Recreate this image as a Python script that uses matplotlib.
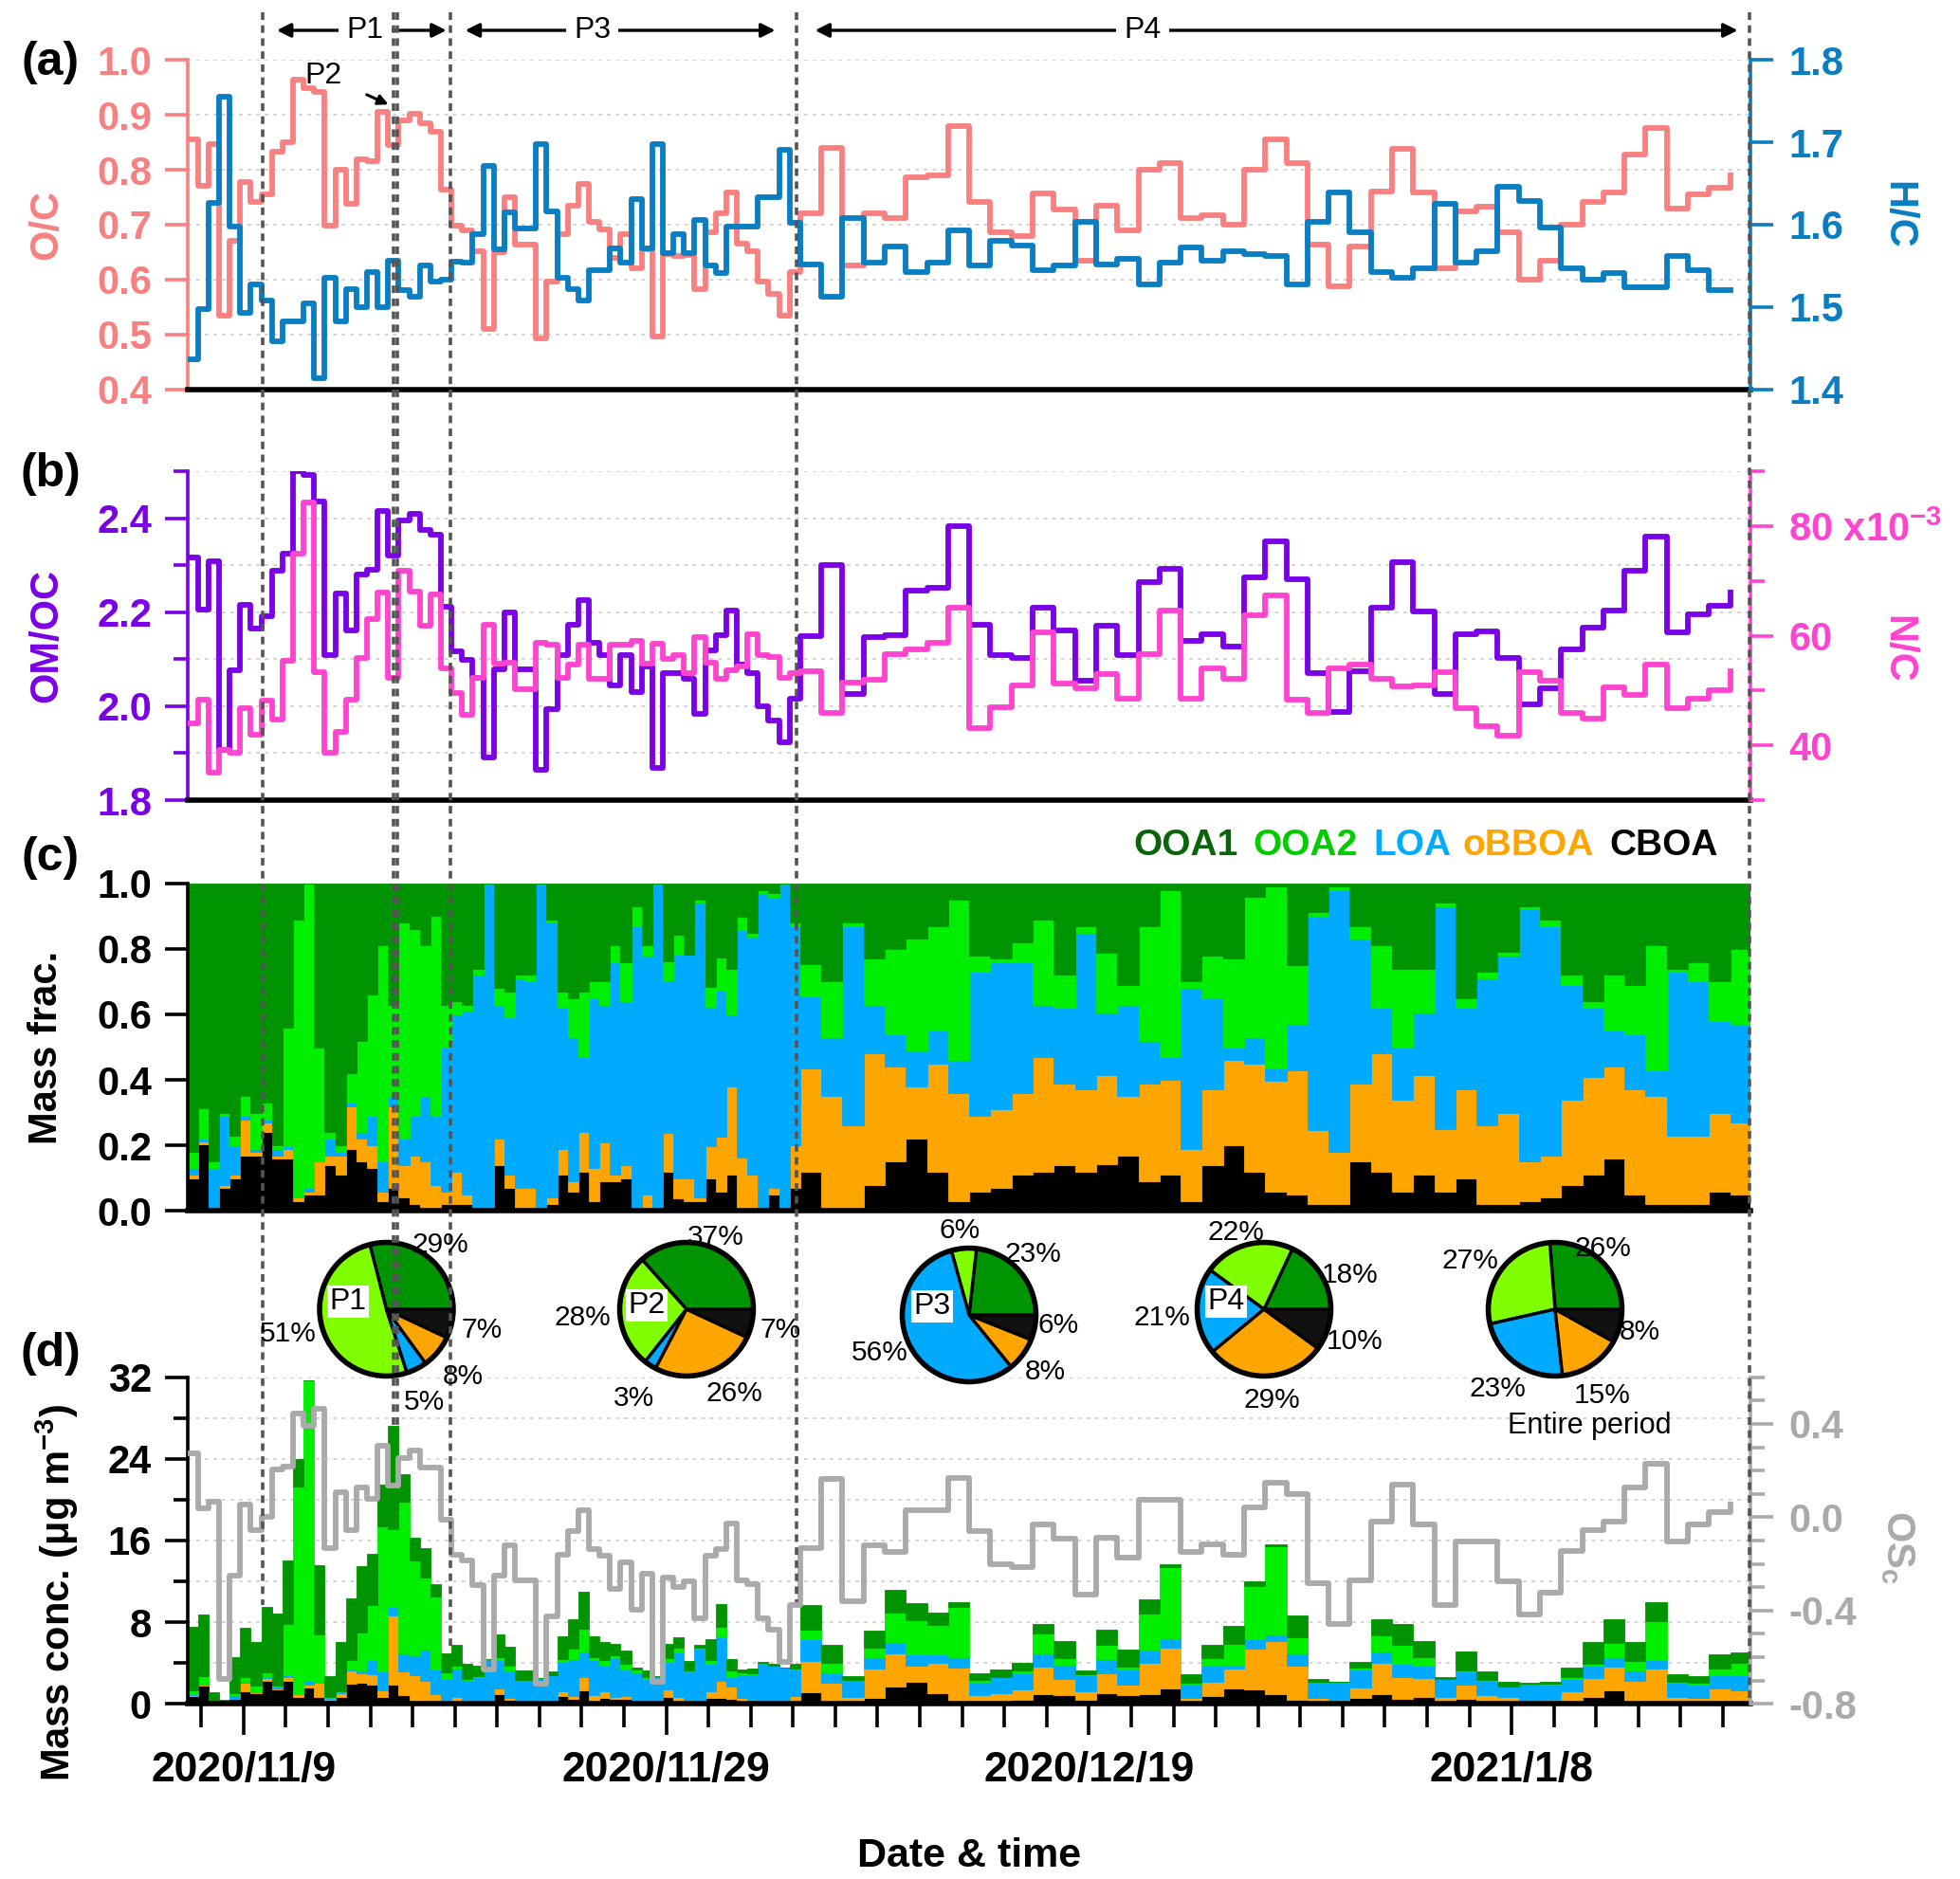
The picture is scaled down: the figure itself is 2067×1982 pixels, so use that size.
import numpy as np
import matplotlib
matplotlib.use("Agg")
import matplotlib.pyplot as plt
import matplotlib.transforms as mtransforms
from matplotlib.lines import Line2D
from matplotlib.ticker import FixedLocator, MultipleLocator

plt.rcParams['font.family'] = ['Liberation Sans', 'DejaVu Sans']
plt.rcParams['font.weight'] = 'bold'
plt.rcParams['axes.labelweight'] = 'bold'
plt.rcParams['mathtext.fontset'] = 'custom'
plt.rcParams['mathtext.rm'] = 'Liberation Sans:bold'
plt.rcParams['mathtext.it'] = 'Liberation Sans:bold'
plt.rcParams['mathtext.bf'] = 'Liberation Sans:bold'
plt.rcParams['axes.unicode_minus'] = False

# ---------------- data ----------------
# time axis: days after 2020/11/9 00:00 (12-h averages, then daily averages)
t_half = -2.66 + 0.5 * np.arange(58)
t_day = 26.34 + np.arange(45)

oc_half = [0.856, 0.77, 0.847, 0.534, 0.671, 0.777, 0.741, 0.755, 0.833, 0.85,
           0.965, 0.948, 0.942, 0.698, 0.80, 0.738, 0.819, 0.816, 0.905, 0.845,
           0.89, 0.902, 0.885, 0.87, 0.764, 0.698, 0.689, 0.652, 0.51, 0.65,
           0.75, 0.663, 0.663, 0.493, 0.597, 0.683, 0.735, 0.774, 0.706, 0.692,
           0.64, 0.683, 0.62, 0.655, 0.496, 0.646, 0.643, 0.645, 0.583, 0.686,
           0.72, 0.758, 0.666, 0.652, 0.597, 0.574, 0.534, 0.614]
oc_day = [0.72, 0.84, 0.626, 0.72, 0.712, 0.787, 0.79, 0.88, 0.741, 0.686,
          0.68, 0.757, 0.727, 0.634, 0.735, 0.689, 0.80, 0.813, 0.712, 0.718,
          0.70, 0.80, 0.856, 0.813, 0.663, 0.588, 0.66, 0.761, 0.839, 0.758,
          0.62, 0.724, 0.732, 0.686, 0.60, 0.634, 0.70, 0.741, 0.758, 0.827,
          0.876, 0.729, 0.755, 0.767, 0.79]

hc_half = [1.437, 1.497, 1.627, 1.755, 1.598, 1.493, 1.528, 1.508, 1.458, 1.482,
           1.482, 1.505, 1.413, 1.535, 1.482, 1.522, 1.50, 1.543, 1.50, 1.556,
           1.521, 1.512, 1.55, 1.531, 1.533, 1.555, 1.554, 1.589, 1.671, 1.57,
           1.615, 1.595, 1.595, 1.698, 1.616, 1.535, 1.522, 1.508, 1.545, 1.545,
           1.571, 1.554, 1.631, 1.571, 1.698, 1.565, 1.589, 1.565, 1.606, 1.551,
           1.541, 1.598, 1.598, 1.598, 1.633, 1.633, 1.691, 1.602]
hc_day = [1.552, 1.512, 1.608, 1.554, 1.573, 1.543, 1.554, 1.593, 1.55, 1.581,
          1.575, 1.545, 1.55, 1.604, 1.552, 1.558, 1.527, 1.554, 1.572, 1.556,
          1.568, 1.564, 1.562, 1.527, 1.604, 1.639, 1.591, 1.543, 1.535, 1.547,
          1.625, 1.554, 1.568, 1.646, 1.629, 1.597, 1.547, 1.533, 1.541, 1.524,
          1.524, 1.562, 1.545, 1.52, 1.521]

omoc_half = [2.317, 2.206, 2.308, 1.906, 2.076, 2.216, 2.165, 2.192, 2.288, 2.324,
             2.50, 2.492, 2.436, 2.108, 2.241, 2.162, 2.281, 2.29, 2.415, 2.32,
             2.395, 2.41, 2.376, 2.366, 2.211, 2.117, 2.099, 2.06, 1.89, 2.078,
             2.2, 2.078, 2.078, 1.865, 1.994, 2.108, 2.173, 2.226, 2.135, 2.108,
             2.044, 2.108, 2.03, 2.084, 1.869, 2.071, 2.071, 2.058, 1.983, 2.12,
             2.152, 2.204, 2.088, 2.071, 2.0, 1.97, 1.923, 2.017]
omoc_day = [2.15, 2.30, 2.027, 2.148, 2.152, 2.246, 2.253, 2.384, 2.173, 2.108,
            2.103, 2.209, 2.162, 2.054, 2.172, 2.108, 2.265, 2.293, 2.14, 2.153,
            2.128, 2.275, 2.351, 2.27, 2.07, 1.987, 2.074, 2.209, 2.307, 2.202,
            2.027, 2.153, 2.159, 2.103, 2.004, 2.039, 2.122, 2.167, 2.204, 2.288,
            2.361, 2.157, 2.196, 2.213, 2.243]

# N/C in units of 1e-3
nc_half = [44.0, 48.3, 35.1, 39.1, 38.6, 46.8, 42.0, 48.2, 44.7, 55.4,
           75.0, 84.3, 53.4, 38.6, 42.4, 48.3, 56.0, 63.0, 67.9, 52.4,
           71.9, 68.1, 61.9, 67.5, 54.1, 49.5, 45.5, 52.4, 62.0, 55.0,
           55.1, 50.2, 50.2, 58.7, 58.3, 52.4, 54.8, 58.3, 52.1, 52.1,
           58.3, 58.4, 59.1, 55.0, 58.5, 55.7, 56.4, 53.2, 59.7, 55.1,
           52.2, 53.7, 54.4, 60.3, 56.4, 56.1, 52.4, 53.2]
nc_day = [53.5, 45.9, 51.5, 52.0, 56.7, 57.6, 58.7, 65.2, 43.2, 47.0,
          51.0, 60.7, 51.2, 50.4, 53.1, 48.6, 56.6, 64.6, 48.6, 54.1,
          52.2, 63.7, 67.3, 48.3, 46.0, 54.1, 54.7, 52.2, 50.8, 51.0,
          53.4, 46.8, 43.5, 41.8, 53.4, 51.8, 45.9, 44.9, 50.6, 49.2,
          54.7, 46.8, 48.6, 50.1, 53.5]

osc_half = [0.275, 0.039, 0.066, -0.695, -0.25, 0.055, -0.055, 0.001, 0.203, 0.217,
            0.443, 0.39, 0.463, -0.133, 0.109, -0.055, 0.127, 0.08, 0.308, 0.136,
            0.255, 0.284, 0.212, 0.212, -0.012, -0.16, -0.187, -0.29, -0.654, -0.25,
            -0.12, -0.27, -0.27, -0.715, -0.425, -0.16, -0.058, 0.028, -0.136, -0.163,
            -0.308, -0.193, -0.395, -0.244, -0.704, -0.26, -0.298, -0.275, -0.435, -0.166,
            -0.136, -0.028, -0.27, -0.287, -0.432, -0.48, -0.621, -0.376]
osc_day = [-0.133, 0.163, -0.358, -0.12, -0.147, 0.028, 0.028, 0.167, -0.059, -0.203,
           -0.214, -0.032, -0.09, -0.333, -0.086, -0.174, 0.075, 0.075, -0.147, -0.117,
           -0.16, 0.042, 0.149, 0.098, -0.281, -0.459, -0.27, -0.019, 0.139, -0.032,
           -0.376, -0.104, -0.104, -0.275, -0.416, -0.322, -0.144, -0.055, -0.019, 0.129,
           0.228, -0.104, -0.032, 0.022, 0.055]

# total OA mass concentration (ug m-3)
total_half = [7.55, 8.73, 1.15, 0.37, 4.55, 7.43, 6.1, 9.5, 8.89, 14.06,
              23.96, 31.7, 13.6, 2.7, 6.1, 10.3, 13.5, 14.7, 21.5, 27.2,
              22.5, 16.3, 15.3, 11.7, 4.95, 5.8, 3.9, 3.7, 4.4, 6.8,
              5.6, 3.3, 3.3, 2.5, 3.2, 6.6, 8.3, 11.0, 6.6, 6.1,
              5.9, 5.2, 3.6, 3.3, 2.7, 5.9, 6.5, 4.2, 5.8, 6.3,
              9.8, 4.4, 3.4, 3.5, 4.1, 3.9, 3.6, 3.9]
total_day = [9.7, 5.8, 2.7, 7.2, 11.2, 9.9, 8.9, 10.0, 3.0, 3.4,
             4.0, 7.8, 6.2, 3.3, 7.3, 5.3, 10.2, 13.7, 2.9, 5.8,
             7.6, 12.0, 15.6, 8.7, 2.4, 2.2, 4.1, 8.3, 7.8, 6.2,
             2.6, 5.1, 3.2, 2.2, 2.1, 2.2, 3.6, 6.1, 8.3, 6.1,
             10.0, 2.9, 2.7, 4.9, 5.0]

# PMF factor mass fractions
cboa_half = [.10, .20, .01, .07, .10, .17, .17, .24, .16, .16,
             .03, .05, .05, .14, .11, .19, .15, .13, .03, .07,
             .04, .02, .01, .01, .02, .02, .02, .01, .01, .14,
             .07, .01, .01, .01, .02, .11, .06, .12, .03, .09,
             .09, .10, .01, .01, .01, .12, .04, .03, .03, .10,
             .06, .11, .01, .01, .01, .05, .01, .07]
obboa_half = [.01, .01, .00, .01, .01, .11, .01, .03, .01, .03,
              .01, .01, .10, .03, .06, .13, .07, .07, .03, .25,
              .10, .15, .14, .07, .04, .10, .03, .00, .00, .08,
              .04, .06, .06, .00, .02, .08, .03, .12, .10, .12,
              .02, .04, .00, .04, .00, .12, .06, .07, .01, .10,
              .17, .27, .15, .10, .00, .02, .00, .13]
loa_half = [.02, .01, .12, .21, .09, .01, .01, .01, .02, .01,
            .00, .01, .00, .05, .01, .01, .02, .09, .09, .03,
            .08, .12, .20, .21, .44, .48, .56, .71, .99, .41,
            .48, .64, .63, .99, .84, .43, .44, .23, .52, .42,
            .65, .50, .86, .73, .99, .47, .69, .69, .90, .43,
            .45, .22, .69, .72, .96, .89, .99, .67]
ooa2_half = [.05, .09, .02, .01, .03, .06, .11, .05, .01, .36,
             .85, .93, .35, .02, .02, .09, .28, .37, .66, .28,
             .66, .57, .46, .61, .13, .04, .02, .02, .00, .05,
             .08, .01, .02, .00, .01, .05, .12, .20, .05, .07,
             .05, .12, .06, .03, .00, .06, .06, .00, .01, .06,
             .10, .14, .04, .01, .01, .01, .00, .01]
ooa1_half = [.82, .68, .85, .70, .77, .65, .70, .67, .80, .44,
             .11, .00, .50, .76, .80, .58, .48, .34, .19, .37,
             .12, .14, .19, .10, .37, .36, .37, .26, .00, .32,
             .33, .28, .28, .00, .11, .33, .35, .33, .30, .30,
             .19, .24, .07, .19, .00, .24, .16, .22, .05, .32,
             .23, .26, .10, .15, .02, .03, .00, .12]

cboa_day = [.12, .01, .01, .08, .15, .22, .12, .03, .06, .07,
            .11, .12, .14, .12, .14, .17, .09, .11, .03, .14,
            .20, .12, .06, .05, .02, .02, .15, .12, .06, .11,
            .06, .10, .02, .02, .03, .04, .08, .11, .16, .05,
            .02, .02, .02, .06, .05]
obboa_day = [.32, .34, .25, .40, .29, .16, .33, .33, .23, .24,
             .25, .35, .25, .25, .27, .18, .30, .29, .16, .23,
             .26, .33, .34, .38, .23, .16, .24, .36, .28, .30,
             .19, .27, .24, .28, .12, .13, .26, .30, .28, .32,
             .33, .21, .21, .24, .22]
loa_day = [.22, .18, .61, .15, .10, .11, .10, .10, .44, .45,
           .40, .16, .23, .48, .19, .28, .13, .07, .49, .28,
           .04, .08, .04, .14, .66, .80, .44, .14, .16, .19,
           .68, .25, .45, .48, .77, .70, .35, .21, .11, .17,
           .08, .50, .47, .28, .30]
ooa2_day = [.10, .17, .01, .14, .26, .34, .32, .49, .05, .01,
            .06, .26, .10, .02, .18, .06, .35, .51, .02, .13,
            .27, .43, .56, .18, .01, .01, .04, .19, .24, .13,
            .01, .03, .02, .01, .01, .02, .03, .02, .17, .15,
            .38, .01, .06, .12, .23]
ooa1_day = [.25, .30, .12, .23, .20, .17, .13, .05, .22, .23,
            .18, .11, .28, .13, .21, .31, .13, .02, .30, .22,
            .23, .04, .01, .25, .09, .01, .13, .19, .26, .26,
            .06, .35, .27, .21, .07, .11, .28, .36, .28, .31,
            .19, .26, .24, .30, .20]

factor_names = ['OOA1', 'OOA2', 'LOA', 'oBBOA', 'CBOA']
pie_names = ['P1', 'P2', 'P3', 'P4', 'Entire period']
pie_P1 = [29, 51, 5, 8, 7]
pie_P2 = [37, 28, 3, 26, 7]
pie_P3 = [23, 6, 56, 8, 6]
pie_P4 = [18, 22, 21, 29, 10]
pie_all = [26, 27, 23, 15, 8]

date_ticks = [0, 20, 40, 60]
date_labels = ['2020/11/9', '2020/11/29', '2020/12/19', '2021/1/8']

# period boundaries (days after 2020/11/9)
p1_start, p2_a, p2_b, p3_start, p4_start = 0.91, 7.09, 7.30, 9.80, 26.17

# ---------------- assemble ----------------
t = np.concatenate([t_half, t_day])
w = np.append(np.diff(t), 1.0)
oc = np.array(oc_half + oc_day)
hc = np.array(hc_half + hc_day)
omoc = np.array(omoc_half + omoc_day)
nc = np.array(nc_half + nc_day)
osc = np.array(osc_half + osc_day)
total = np.array(total_half + total_day)
fr = {
    'OOA1': np.array(ooa1_half + ooa1_day),
    'OOA2': np.array(ooa2_half + ooa2_day),
    'LOA': np.array(loa_half + loa_day),
    'oBBOA': np.array(obboa_half + obboa_day),
    'CBOA': np.array(cboa_half + cboa_day),
}
fsum = sum(fr.values())
for k in fr:
    fr[k] = fr[k] / fsum

bar_col = {'OOA1': '#009400', 'OOA2': '#00EE00', 'LOA': '#00AAFF',
           'oBBOA': '#FFA500', 'CBOA': '#000000'}
pie_col = ['#009400', '#80FF00', '#00AAFF', '#FFA500', '#111111']
leg_col = {'OOA1': '#0A640A', 'OOA2': '#00CC00', 'LOA': '#00AAFF',
           'oBBOA': '#FFA500', 'CBOA': '#000000'}

C_OC, C_HC = '#F88080', '#0A7EC2'
C_OM, C_NC = '#7A00E6', '#FF44D0'
C_OS = '#AAAAAA'

# ---------------- figure ----------------
W, H = 2067, 1982
fig = plt.figure(figsize=(W / 100, H / 100), dpi=100)


def fx(px):
    return px / W


def fy(py):
    return 1 - py / H


L, R = 197.5, 1846
XLIM = (-2.66, 71.3)


def make_ax(top, bottom):
    return fig.add_axes([fx(L), fy(bottom), fx(R - L), (bottom - top) / H])


ax_a = make_ax(63.3, 410.7)
ax_b = make_ax(497.3, 844.0)
ax_c = make_ax(931.7, 1277.3)
ax_d = make_ax(1452.7, 1797.3)

TS = 30
TL, TW = 17, 2.6
RX = 1.094   # x position (axes fraction) of right-hand axis titles
LX = -0.090  # x position (axes fraction) of left-hand axis titles


def base_style(ax, lcolor, grid=True):
    ax.set_xlim(*XLIM)
    for s in ['top', 'right']:
        ax.spines[s].set_visible(False)
    ax.spines['left'].set_color(lcolor)
    ax.spines['left'].set_linewidth(2.6)
    ax.spines['bottom'].set_color('black')
    ax.spines['bottom'].set_linewidth(4)
    ax.tick_params(axis='y', which='major', colors=lcolor, labelsize=TS,
                   length=TL, width=TW, pad=10, direction='out')
    ax.tick_params(axis='y', which='minor', colors=lcolor, length=11, width=TW,
                   direction='out')
    ax.tick_params(axis='x', which='both', bottom=False, labelbottom=False)
    if grid:
        ax.grid(axis='y', which='both', color='#D0D0D0', linestyle=(0, (2, 3)),
                linewidth=1.3, zorder=0)
    ax.set_axisbelow(True)


def right_style(ax, color):
    for s in ['top', 'left', 'bottom']:
        ax.spines[s].set_visible(False)
    ax.spines['right'].set_color(color)
    ax.spines['right'].set_linewidth(2.6)
    ax.tick_params(axis='y', which='major', colors=color, labelsize=TS,
                   length=TL, width=TW, pad=12, direction='out')
    ax.tick_params(axis='y', which='minor', colors=color, length=11, width=TW,
                   direction='out')
    ax.tick_params(axis='x', which='both', bottom=False, labelbottom=False)


LW = 4.2

# ---- (a) O/C and H/C ----
base_style(ax_a, C_OC)
ax_a.step(t, oc, where='post', color=C_OC, lw=LW)
ax_a.set_ylim(0.4, 1.0)
ax_a.set_yticks(np.round(np.arange(0.4, 1.01, 0.1), 1))
ax_a.set_yticklabels(['%.1f' % v for v in np.arange(0.4, 1.01, 0.1)])
ax_a.set_ylabel('O/C', color=C_OC, fontsize=TS, va='center')
ax_a.yaxis.set_label_coords(LX, 0.5)
ax_a2 = ax_a.twinx()
right_style(ax_a2, C_HC)
ax_a2.step(t, hc, where='post', color=C_HC, lw=LW)
ax_a2.set_ylim(1.4, 1.8)
ax_a2.set_xlim(*XLIM)
ax_a2.set_yticks(np.round(np.arange(1.4, 1.81, 0.1), 1))
ax_a2.set_yticklabels(['%.1f' % v for v in np.arange(1.4, 1.81, 0.1)])
ax_a2.set_ylabel('H/C', color=C_HC, fontsize=TS, rotation=270, va='center')
ax_a2.yaxis.set_label_coords(RX, 0.53)

# ---- (b) OM/OC and N/C ----
base_style(ax_b, C_OM)
ax_b.step(t, omoc, where='post', color=C_OM, lw=LW)
ax_b.set_ylim(1.8, 2.5)
ax_b.yaxis.set_major_locator(FixedLocator([1.8, 2.0, 2.2, 2.4]))
ax_b.yaxis.set_minor_locator(FixedLocator([1.9, 2.1, 2.3, 2.5]))
ax_b.set_yticklabels(['1.8', '2.0', '2.2', '2.4'])
ax_b.set_ylabel('OM/OC', color=C_OM, fontsize=TS, va='center')
ax_b.yaxis.set_label_coords(LX, 0.5)
ax_b2 = ax_b.twinx()
right_style(ax_b2, C_NC)
ax_b2.step(t, nc, where='post', color=C_NC, lw=LW)
ax_b2.set_ylim(30, 90)
ax_b2.set_xlim(*XLIM)
ax_b2.yaxis.set_major_locator(FixedLocator([40, 60, 80]))
ax_b2.yaxis.set_minor_locator(FixedLocator([30, 50, 70, 90]))
ax_b2.set_yticklabels(['40', '60', r'80 x10$^{-3}$'])
ax_b2.set_ylabel('N/C', color=C_NC, fontsize=TS, rotation=270, va='center')
ax_b2.yaxis.set_label_coords(RX, 0.46)

# ---- (c) mass fractions ----
base_style(ax_c, 'black', grid=False)
bottom = np.zeros_like(t)
for name in ['CBOA', 'oBBOA', 'LOA', 'OOA2', 'OOA1']:
    ax_c.bar(t, fr[name], width=w, bottom=bottom, align='edge',
             color=bar_col[name], edgecolor=bar_col[name], linewidth=0.6)
    bottom = bottom + fr[name]
ax_c.set_ylim(0, 1.0)
ax_c.set_yticks(np.round(np.arange(0, 1.01, 0.2), 1))
ax_c.set_yticklabels(['%.1f' % v for v in np.arange(0, 1.01, 0.2)])
ax_c.set_ylabel('Mass frac.', fontsize=TS, va='center')
ax_c.yaxis.set_label_coords(LX, 0.5)

# ---- (d) mass concentrations and OSc ----
base_style(ax_d, 'black')
bottom = np.zeros_like(t)
for name in ['CBOA', 'oBBOA', 'LOA', 'OOA2', 'OOA1']:
    conc = total * fr[name]
    ax_d.bar(t, conc, width=w, bottom=bottom, align='edge',
             color=bar_col[name], edgecolor=bar_col[name], linewidth=0.6,
             zorder=2)
    bottom = bottom + conc
ax_d.set_ylim(0, 32)
ax_d.yaxis.set_major_locator(FixedLocator([0, 8, 16, 24, 32]))
ax_d.yaxis.set_minor_locator(FixedLocator([4, 12, 20, 28]))
ax_d.set_ylabel('Mass conc. (μg m$^{-3}$)', fontsize=TS, va='center')
ax_d.yaxis.set_label_coords(-0.083, 0.34)
ax_d.tick_params(axis='x', which='both', bottom=True, labelbottom=True,
                 direction='out', width=TW, colors='black')
ax_d.tick_params(axis='x', which='major', length=24, labelsize=32, pad=12)
ax_d.tick_params(axis='x', which='minor', length=18)
ax_d.xaxis.set_major_locator(FixedLocator(date_ticks))
ax_d.xaxis.set_minor_locator(MultipleLocator(2))
ax_d.set_xticklabels(date_labels)
ax_d.set_xlabel('Date & time', fontsize=31, labelpad=36)
ax_d2 = ax_d.twinx()
right_style(ax_d2, C_OS)
ax_d2.step(t, osc, where='post', color=C_OS, lw=LW)
ax_d2.set_ylim(-0.8, 0.6)
ax_d2.set_xlim(*XLIM)
ax_d2.yaxis.set_major_locator(FixedLocator([-0.8, -0.4, 0.0, 0.4]))
ax_d2.yaxis.set_minor_locator(MultipleLocator(0.1))
ax_d2.set_yticklabels(['-0.8', '-0.4', '0.0', '0.4'])
ax_d2.set_ylabel('OS$_{c}$', color=C_OS, fontsize=TS, rotation=270, va='center')
ax_d2.yaxis.set_label_coords(RX, 0.48)

# ---- panel letters ----
for lab, py in [('(a)', 66), ('(b)', 500), ('(c)', 905), ('(d)', 1428)]:
    fig.text(fx(53), fy(py), lab, fontsize=36, ha='center', va='center')

# ---- legend words above (c) ----
for name, px in zip(factor_names, [1195, 1321, 1448, 1543, 1697]):
    fig.text(fx(px), fy(902), name, color=leg_col[name], fontsize=28,
             ha='left', va='baseline')

# ---- period markers ----
blend = mtransforms.blended_transform_factory(ax_d.transData, fig.transFigure)
dash = dict(color='#555555', lw=2.6, linestyle=(0, (2.2, 1.6)), zorder=10)
for xv, ybot in [(p1_start, 1693), (p2_a, 1507), (p2_b, 1507),
                 (p3_start, 1740), (p4_start, 1690), (XLIM[1] - 0.05, 1797)]:
    fig.add_artist(Line2D([xv, xv], [fy(13), fy(ybot)], transform=blend, **dash))

arrow_y = fy(32)
for lab, x1, x2, xt in [('P1', 1.57, 9.6, 5.74), ('P3', 10.49, 25.16, 16.5),
                        ('P4', 27.04, 70.7, 42.56)]:
    ax_a.annotate('', xy=(x2, arrow_y), xytext=(x1, arrow_y), xycoords=blend,
                  textcoords=blend, annotation_clip=False,
                  arrowprops=dict(arrowstyle='<|-|>', lw=2.4, color='black',
                                  mutation_scale=22, shrinkA=0, shrinkB=0))
    ax_a.text(xt, arrow_y, lab, transform=blend, fontsize=23, fontweight='normal',
              ha='center', va='center', clip_on=False,
              bbox=dict(facecolor='white', edgecolor='none', pad=6))

ax_a.annotate('P2', xy=(6.86, 0.919), xytext=(3.8, 0.972), fontsize=23,
              fontweight='normal', ha='center', va='center',
              arrowprops=dict(arrowstyle='-|>', lw=2.2, color='black',
                              mutation_scale=16, shrinkA=18, shrinkB=0))

# ---- pies ----
pie_sets = [pie_P1, pie_P2, pie_P3, pie_P4, pie_all]
pie_centers = [(407.5, 1381), (724, 1381), (1022, 1387), (1333, 1381), (1640, 1381)]
r = 74
for vals, (cx, cy) in zip(pie_sets, pie_centers):
    pax = fig.add_axes([fx(cx - r), fy(cy + r), fx(2 * r), 2 * r / H])
    pax.pie(vals, colors=pie_col, startangle=0, counterclock=True,
            wedgeprops=dict(edgecolor='black', linewidth=2.4))
    pax.add_patch(plt.Circle((0, 0), 1.0, fill=False, edgecolor='black', lw=4))
    pax.set_xlim(-1.05, 1.05)
    pax.set_ylim(-1.05, 1.05)
    pax.set_aspect('equal')
    pax.axis('off')

pie_text = [
    ('29%', 464, 1313), ('51%', 304, 1407), ('7%', 508, 1403), ('8%', 488, 1452), ('5%', 447, 1479),
    ('37%', 755, 1305), ('28%', 614, 1390), ('7%', 823, 1403), ('3%', 668, 1475), ('26%', 774, 1470),
    ('6%', 1012, 1298), ('23%', 1089, 1323), ('6%', 1116, 1398), ('56%', 928, 1427), ('8%', 1102, 1447),
    ('22%', 1303, 1300), ('18%', 1424, 1345), ('21%', 1225, 1390), ('10%', 1429, 1415), ('29%', 1341, 1477),
    ('27%', 1550, 1330), ('26%', 1690, 1317), ('8%', 1729, 1405), ('23%', 1579, 1465), ('15%', 1690, 1472),
]
for s, px, py in pie_text:
    fig.text(fx(px), fy(py), s, fontsize=21.5, fontweight='normal',
             ha='center', va='center', zorder=20)
for s, px, py in zip(pie_names[:4], [367, 682, 983, 1293], [1373, 1377, 1378, 1373]):
    fig.text(fx(px), fy(py), s, fontsize=23, fontweight='normal', ha='center',
             va='center', zorder=20,
             bbox=dict(facecolor='white', edgecolor='none', pad=1.5))
fig.text(fx(1676), fy(1504), pie_names[4], fontsize=22, fontweight='normal',
         ha='center', va='center')

fig.savefig('out.png', dpi=100)
